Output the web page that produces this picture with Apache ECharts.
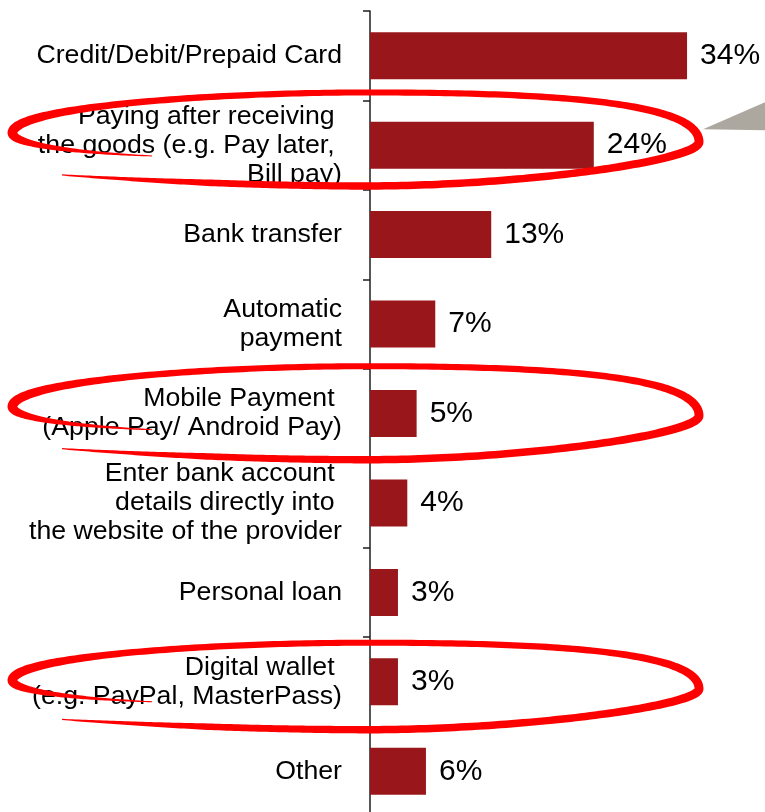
<!DOCTYPE html>
<html>
<head>
<meta charset="utf-8">
<script src="https://cdn.jsdelivr.net/npm/echarts@6/dist/echarts.min.js"></script>
<style>
  html, body { margin: 0; padding: 0; background: #ffffff; }
  #chart { width: 765px; height: 812px; }
</style>
</head>
<body>
<div id="chart"></div>
<script>
// Payment methods, top to bottom
const categories = [
  'Credit/Debit/Prepaid Card',
  'Paying after receiving \nthe goods (e.g. Pay later, \nBill pay)',
  'Bank transfer',
  'Automatic\npayment',
  'Mobile Payment \n(Apple Pay/ Android Pay)',
  'Enter bank account \ndetails directly into \nthe website of the provider',
  'Personal loan',
  'Digital wallet \n(e.g. PayPal, MasterPass)',
  'Other'
];
// Share of respondents, percent
const shares = [34, 24, 13, 7, 5, 4, 3, 3, 6];
// Categories circled in red
const circled = [1, 4, 7];

const FONT = '"Liberation Sans", Arial, Helvetica, sans-serif';
const BAR_COLOR = '#99171b';

const chart = echarts.init(document.getElementById('chart'), null, { renderer: 'canvas' });

chart.setOption({
  animation: false,
  backgroundColor: '#ffffff',
  // the last band runs slightly past the bottom edge of the canvas
  grid: { left: 370, top: 11, width: 373, height: 805, outerBoundsMode: 'none', containLabel: false },
  xAxis: {
    type: 'value', min: 0, max: 40,
    show: false
  },
  yAxis: {
    type: 'category',
    inverse: true,
    data: categories,
    axisLine: { show: true, lineStyle: { color: '#1e1e1e', width: 1.5 } },
    axisTick: { show: true, length: 7, inside: false, lineStyle: { color: '#1e1e1e', width: 1.5 } },
    axisLabel: {
      fontFamily: FONT, fontSize: 26.7, color: '#000000',
      lineHeight: 29, margin: 28, align: 'right', padding: [5, 0, 0, 0]
    },
    splitLine: { show: false }
  },
  series: [{
    type: 'bar',
    data: shares,
    barWidth: 47,
    itemStyle: { color: BAR_COLOR },
    label: {
      show: true, position: 'right', distance: 13,
      fontFamily: FONT, fontSize: 30, color: '#000000',
      formatter: p => p.value + '%'
    }
  }]
});

// Brush-stroke loop drawn as cubic Bezier pieces. Points are [x, y offset from
// the left tip]; widths run from the start to the end of each piece.
// Pen path: lower-left tail -> bottom -> right end -> top -> left end -> back inside.
const loopPieces = [
  { p: [[62, 42], [150, 48], [260, 53], [367, 53]],   w: [1.2, 6.5, 7.5] },
  { p: [[367, 53], [520, 53], [699, 28], [699, 9]],   w: [7.5, 7.5, 9] },
  { p: [[699, 9], [699, -30], [560, -40.5], [370, -40.5]], w: [9, 6.5, 6] },
  { p: [[370, -40.5], [200, -40.5], [12.5, -25], [12.5, 0]], w: [6, 6.5, 10] },
  { p: [[12.5, 0], [12.5, 10], [60, 19], [152, 23]],  w: [10, 5, 1] }
];

function bez(p, t) {
  const u = 1 - t, c0 = u * u * u, c1 = 3 * u * u * t, c2 = 3 * u * t * t, c3 = t * t * t;
  return [c0 * p[0][0] + c1 * p[1][0] + c2 * p[2][0] + c3 * p[3][0],
          c0 * p[0][1] + c1 * p[1][1] + c2 * p[2][1] + c3 * p[3][1]];
}
function widthAlong(w, t) {
  return t < 0.5 ? w[0] + (w[1] - w[0]) * t * 2 : w[1] + (w[2] - w[1]) * (t - 0.5) * 2;
}

const loopLine = [];
loopPieces.forEach((piece, i) => {
  const steps = 80;
  for (let s = (i === 0 ? 0 : 1); s <= steps; s++) {
    const t = s / steps;
    const xy = bez(piece.p, t);
    loopLine.push({ x: xy[0], y: xy[1], w: widthAlong(piece.w, t) });
  }
});

function ringPolygon(tipY, scaleY) {
  const pts = loopLine.map(p => ({ x: p.x, y: tipY + 5 + (p.y - 5) * scaleY, w: p.w }));
  const N = pts.length - 1;
  const left = [], right = [];
  for (let i = 0; i <= N; i++) {
    const p = pts[Math.max(0, i - 1)], q = pts[Math.min(N, i + 1)];
    let tx = q.x - p.x, ty = q.y - p.y;
    const len = Math.hypot(tx, ty) || 1;
    tx /= len; ty /= len;
    const h = pts[i].w / 2;
    left.push([pts[i].x - ty * h, pts[i].y + tx * h]);
    right.push([pts[i].x + ty * h, pts[i].y - tx * h]);
  }
  return left.concat(right.reverse());
}

const tipOffsets = [-12.2, -6.8, -1.8];
const ringScale = [1, 1, 0.93];
const graphics = circled.map((idx, k) => {
  const yc = chart.convertToPixel({ yAxisIndex: 0 }, categories[idx]);
  return {
    type: 'polygon', z: 100, silent: true,
    shape: { points: ringPolygon(yc + tipOffsets[k], ringScale[k]) },
    style: { fill: '#ff0000' }
  };
});

// Grey callout wedge pointing at the first loop
const yFirst = chart.convertToPixel({ yAxisIndex: 0 }, categories[circled[0]]);
graphics.push({
  type: 'polygon', z: 90, silent: true,
  shape: { points: [[703, yFirst - 16], [765, yFirst - 43], [765, yFirst - 15]] },
  style: { fill: '#aca89f' }
});

chart.setOption({ graphic: graphics });
</script>
</body>
</html>
